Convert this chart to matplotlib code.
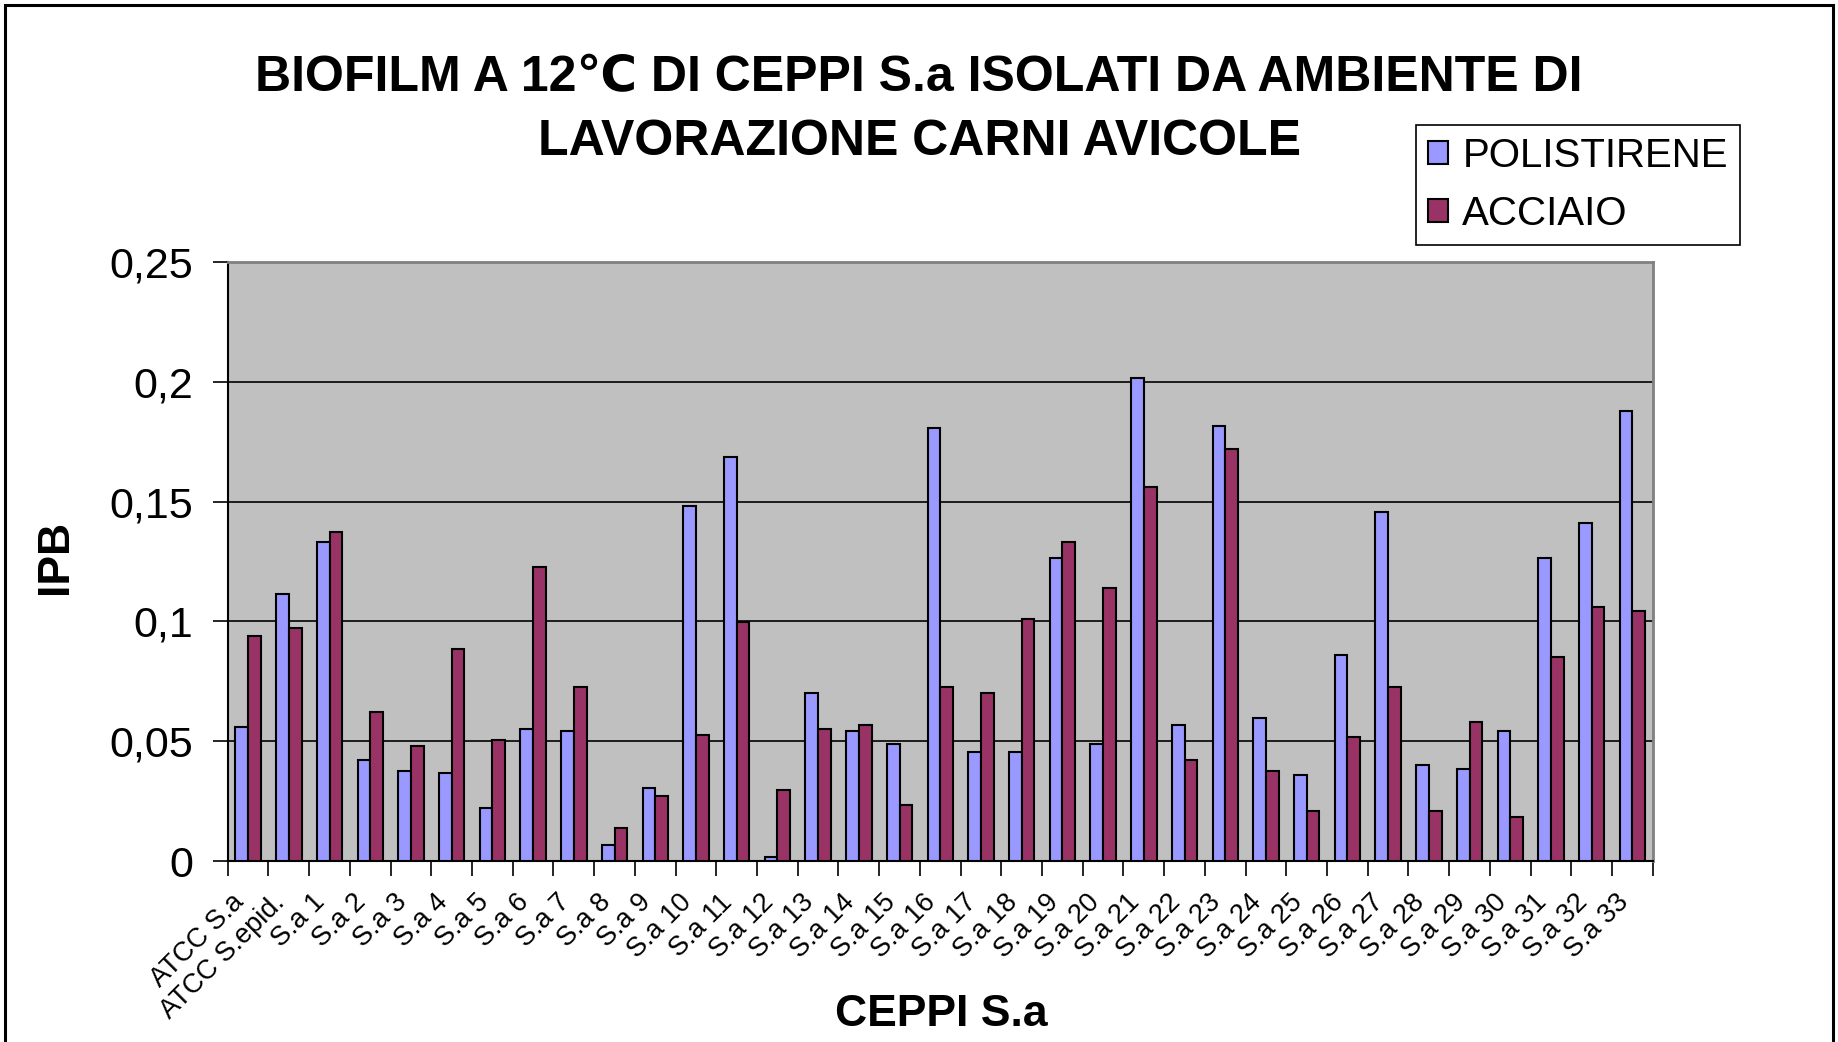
#!/usr/bin/python

import numpy as np
import matplotlib
matplotlib.use('Agg')
import matplotlib.pyplot as plt
import matplotlib.transforms as mtransforms
from matplotlib.patches import Rectangle

plt.rcParams['font.family'] = ['Liberation Sans', 'DejaVu Sans']

ceppi = ['ATCC S.a', 'ATCC S.epid.'] + ['S.a %d' % i for i in range(1, 34)]

polistirene = [0.0561, 0.1115, 0.1332, 0.0420, 0.0377, 0.0369, 0.0220, 0.0552,
               0.0544, 0.0068, 0.0305, 0.1482, 0.1684, 0.0017, 0.0703, 0.0544,
               0.0489, 0.1806, 0.0456, 0.0456, 0.1263, 0.0489, 0.2016, 0.0569,
               0.1816, 0.0597, 0.0359, 0.0858, 0.1457, 0.0402, 0.0386, 0.0544,
               0.1263, 0.1412, 0.1877]

acciaio = [0.0938, 0.0973, 0.1375, 0.0622, 0.0480, 0.0886, 0.0507, 0.1227,
           0.0728, 0.0139, 0.0272, 0.0526, 0.0998, 0.0297, 0.0552, 0.0569,
           0.0235, 0.0728, 0.0703, 0.1008, 0.1333, 0.1140, 0.1560, 0.0420,
           0.1719, 0.0377, 0.0210, 0.0517, 0.0728, 0.0210, 0.0579, 0.0185,
           0.0851, 0.1061, 0.1045]

y_ticks = [0, 0.05, 0.1, 0.15, 0.2, 0.25]
y_tick_labels = ['0', '0,05', '0,1', '0,15', '0,2', '0,25']

title_1 = 'BIOFILM A 12\u2103 DI CEPPI S.a ISOLATI DA AMBIENTE DI'
title_2 = 'LAVORAZIONE CARNI AVICOLE'


def plot_chart():

    fig = plt.figure(figsize=(18.38, 10.42), dpi=100)
    ax = fig.add_axes([0.1239, 0.1737, 0.7753, 0.5749])
    ax.set_facecolor('#C0C0C0')

    x = np.arange(len(ceppi))
    w = 0.312

    ax.bar(x - w / 2, polistirene, w, color='#9999FF', edgecolor='black',
           linewidth=1.5, label='POLISTIRENE', zorder=3)
    ax.bar(x + w / 2, acciaio, w, color='#993366', edgecolor='black',
           linewidth=1.5, label='ACCIAIO', zorder=3)

    ax.set_xlim(-0.5, len(ceppi) - 0.5)
    ax.set_ylim(0, 0.25)

    ax.set_yticks(y_ticks)
    ax.set_yticklabels(y_tick_labels, fontsize=31)
    for v in y_ticks[1:-1]:
        ax.axhline(v, color='black', linewidth=1.2, zorder=1)

    ax.set_xticks(x)
    ax.set_xticklabels(ceppi, rotation=45, ha='right', va='center',
                       rotation_mode='anchor', fontsize=19.5)
    ax.set_xticks(np.arange(-0.5, len(ceppi), 1), minor=True)
    ax.tick_params(axis='x', which='major', length=0, pad=27)
    ax.tick_params(axis='x', which='minor', length=11, width=1.2)
    ax.tick_params(axis='y', length=11, width=1.2, pad=14)

    offset = mtransforms.ScaledTranslation(-8 / 100, 0, fig.dpi_scale_trans)
    for lab in ax.get_xticklabels():
        lab.set_transform(lab.get_transform() + offset)

    for side in ['top', 'right']:
        ax.spines[side].set_color('#808080')
        ax.spines[side].set_linewidth(2)
    for side in ['left', 'bottom']:
        ax.spines[side].set_color('black')
        ax.spines[side].set_linewidth(1.5)

    fig.text(0.5, 0.9127, title_1, ha='center', va='baseline',
             fontsize=36, fontweight='bold')
    fig.text(0.5, 0.8512, title_2, ha='center', va='baseline',
             fontsize=36, fontweight='bold')

    fig.text(0.030, 0.4655, 'IPB', rotation=90, ha='center', va='center',
             fontsize=32, fontweight='bold')
    fig.text(0.512, 0.0154, 'CEPPI S.a', ha='center', va='baseline',
             fontsize=32, fontweight='bold')

    leg = fig.legend(loc='upper left', bbox_to_anchor=(0.7704, 0.880),
                     fontsize=29, frameon=True, fancybox=False, shadow=False,
                     handlelength=0.5, handleheight=0.5, handletextpad=0.35,
                     borderpad=0.3, labelspacing=0.5, borderaxespad=0)
    leg.get_frame().set_edgecolor('black')
    leg.get_frame().set_linewidth(1.2)
    leg.get_frame().set_alpha(1)

    fig.patches.append(Rectangle((5 / 1838, -0.02), 1828 / 1838, 1.0152,
                                 transform=fig.transFigure, fill=False,
                                 edgecolor='black', linewidth=2.2))

    fig.savefig('out.png', dpi=100)


def main():
    plot_chart()


if __name__ == "__main__":
    main()
